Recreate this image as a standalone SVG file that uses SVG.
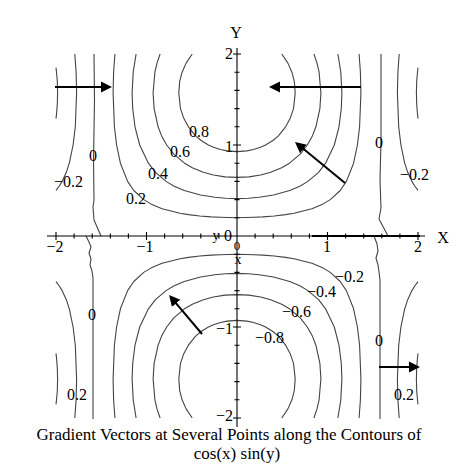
<svg xmlns="http://www.w3.org/2000/svg" xmlns:xlink="http://www.w3.org/1999/xlink" width="474" height="474" viewBox="0 0 474 474">
<style>
.c{fill:none;stroke:#444;stroke-width:1.1;stroke-linejoin:round}
.ax{fill:none;stroke:#000;stroke-width:1.1}
.v{fill:none;stroke:#000;stroke-width:2}
text{font-family:"Liberation Serif","Times New Roman",serif;fill:#000}
.lb{font-size:16px}
.tt{font-size:17px}
</style>
<defs>
<marker id="ah" markerUnits="userSpaceOnUse" markerWidth="12" markerHeight="12" refX="1" refY="6" orient="auto">
<path d="M0,0.5 L11,6 L0,11.5 Z" fill="#000"/>
</marker>
<g id="top">
<path class="c" d="M192.2,54 L186.1,63.1 L182.1,72.2 L179.7,81.3 L178.8,93.1 L180.5,108.6 L183.5,117.7 L188.4,126.8 L195.6,135.9 L201.1,140.5 L208.4,145 L213.5,147.3 L220.5,149.5 L227.2,150.9 L237,151.6 L246.8,150.9 L253.5,149.5 L260.5,147.3 L265.6,145 L272.9,140.5 L278.4,135.9 L285.6,126.8 L290.5,117.7 L293.5,108.6 L295.2,93.1 L294.3,81.3 L291.9,72.2 L287.9,63.1 L281.8,54"/>
<path class="c" d="M160.1,54 L157,63.1 L154.9,72.2 L153.1,93.1 L154.1,108.6 L158.1,126.8 L161.6,135.9 L166.7,145 L173.8,154.1 L184.5,163.2 L192.3,167.75 L203.4,172.3 L213.4,175 L225.1,176.85 L237,177.4 L248.9,176.85 L260.6,175 L270.6,172.3 L281.7,167.75 L289.5,163.2 L300.2,154.1 L307.3,145 L312.4,135.9 L315.9,126.8 L319.9,108.6 L320.9,93.1 L319.1,72.2 L317,63.1 L313.9,54"/>
<path class="c" d="M136.1,54 L133.2,72.2 L132.1,93.1 L132.7,108.6 L135,126.8 L139.7,145 L148.4,163.2 L155.4,172.3 L166.1,181.4 L173.7,186 L184.2,190.5 L200.5,195.05 L214.9,197.3 L225.6,198.2 L237,198.6 L248.4,198.2 L259.1,197.3 L273.5,195.05 L289.8,190.5 L300.3,186 L307.9,181.4 L318.6,172.3 L325.6,163.2 L334.3,145 L339,126.8 L341.3,108.6 L341.9,93.1 L340.8,72.2 L337.9,54"/>
<path class="c" d="M114.9,54 L113.6,72.2 L113.1,93.1 L114.4,126.8 L116.6,145 L120.4,163.2 L127.6,181.4 L133.8,190.5 L143.7,199.6 L151.3,204.15 L162.1,208.7 L180,213.25 L188.5,214.6 L199.8,216 L211.1,216.9 L220,217.3 L237,217.7 L254,217.3 L262.9,216.9 L274.2,216 L285.5,214.6 L294,213.25 L311.9,208.7 L322.7,204.15 L330.3,199.6 L340.2,190.5 L346.4,181.4 L353.6,163.2 L357.4,145 L359.6,126.8 L360.9,93.1 L360.4,72.2 L359.1,54"/>
<path class="c" d="M74.8,54 L76.1,72.2 L76.6,93.1 L75.3,126.8 L73.1,145 L69.3,163.2 L66.3,172.3 L62.1,181.4 L59.3,186 L56,190.4"/>
<path class="c" d="M399.2,54 L397.9,72.2 L397.4,93.1 L398.7,126.8 L400.9,145 L404.7,163.2 L407.7,172.3 L411.9,181.4 L414.7,186 L418,190.4"/>
<path class="c" d="M56,67.6 L56.5,72.2 L57.3,81.3 L57.6,93.1 L57.3,104.05 L56.6,113.15 L56,118.6"/>
<path class="c" d="M418,67.6 L417.5,72.2 L416.7,81.3 L416.4,93.1 L416.7,104.05 L417.4,113.15 L418,118.6"/>
</g>
</defs>
<g id="contours">
<use xlink:href="#top" href="#top"/>
<use xlink:href="#top" href="#top" transform="matrix(1 0 0 -1 0 472)"/>
<path class="c" d="M94,54 L94.5,100 L93.5,160 L94,200 L93,207 L94,220 L101,236"/>
<path class="c" d="M86,236 L89,242 L91,247 L89,253 L91,259 L90,265 L92,271 L93,278 L93,419"/>
<path class="c" d="M381,54 L381,140 L380,180 L381,208 L379,219 L388,236"/>
<path class="c" d="M374,236 L377,244 L378,251 L376,258 L378,265 L379,272 L380,280 L380,419"/>
</g>
<g id="axes">
<line class="ax" x1="47" y1="236" x2="425" y2="236"/>
<line class="ax" x1="237" y1="48" x2="237" y2="427"/>
<line x1="312" y1="236" x2="420" y2="236" stroke="#000" stroke-width="2"/>
<path class="ax" d="M56,232 V240 M74.1,233.5 V238.5 M92.2,233.5 V238.5 M110.3,233.5 V238.5 M128.4,233.5 V238.5 M146.5,232 V240 M164.6,233.5 V238.5 M182.7,233.5 V238.5 M200.8,233.5 V238.5 M218.9,233.5 V238.5 M255.1,233.5 V238.5 M273.2,233.5 V238.5 M291.3,233.5 V238.5 M309.4,233.5 V238.5 M327.5,232 V240 M345.6,233.5 V238.5 M363.7,233.5 V238.5 M381.8,233.5 V238.5 M399.9,233.5 V238.5 M418,232 V240"/>
<path class="ax" d="M233,54 H241 M234.5,72.2 H239.5 M234.5,90.4 H239.5 M234.5,108.6 H239.5 M234.5,126.8 H239.5 M233,145 H241 M234.5,163.2 H239.5 M234.5,181.4 H239.5 M234.5,199.6 H239.5 M234.5,217.8 H239.5 M234.5,254.2 H239.5 M234.5,272.4 H239.5 M234.5,290.6 H239.5 M234.5,308.8 H239.5 M233,327 H241 M234.5,345.2 H239.5 M234.5,363.4 H239.5 M234.5,381.6 H239.5 M234.5,399.8 H239.5 M233,418 H241"/>
<text class="lb" x="236" y="38" text-anchor="middle">Y</text>
<text class="lb" x="443" y="243" text-anchor="middle">X</text>
<text class="lb" x="233" y="59" text-anchor="end">2</text>
<text class="lb" x="233" y="152" text-anchor="end">1</text>
<text class="lb" x="233" y="334" text-anchor="end">−1</text>
<text class="lb" x="233" y="421" text-anchor="end">−2</text>
<text class="lb" x="55" y="252" text-anchor="middle">−2</text>
<text class="lb" x="145" y="252" text-anchor="middle">−1</text>
<text class="lb" x="327" y="252" text-anchor="middle">1</text>
<text class="lb" x="418" y="252" text-anchor="middle">2</text>
<text x="216" y="240" font-size="14" text-anchor="middle">y</text>
<text class="lb" x="228" y="241" text-anchor="middle">0</text>
<text x="237" y="250" font-size="13" text-anchor="middle">0</text>
<text x="238" y="264" font-size="14" text-anchor="middle">x</text>
</g>
<g id="contour-labels">
<text class="lb" x="199" y="137" text-anchor="middle">0.8</text>
<text class="lb" x="180" y="157" text-anchor="middle">0.6</text>
<text class="lb" x="158" y="179" text-anchor="middle">0.4</text>
<text class="lb" x="136" y="204" text-anchor="middle">0.2</text>
<text class="lb" x="93" y="161" text-anchor="middle">0</text>
<text class="lb" x="83" y="187" text-anchor="end">−0.2</text>
<text class="lb" x="379" y="148" text-anchor="middle">0</text>
<text class="lb" x="429" y="180" text-anchor="end">−0.2</text>
<text class="lb" x="92" y="320" text-anchor="middle">0</text>
<text class="lb" x="77" y="400" text-anchor="middle">0.2</text>
<text class="lb" x="364" y="282" text-anchor="end">−0.2</text>
<text class="lb" x="336" y="297" text-anchor="end">−0.4</text>
<text class="lb" x="311" y="317" text-anchor="end">−0.6</text>
<text class="lb" x="284" y="343" text-anchor="end">−0.8</text>
<text class="lb" x="379" y="346" text-anchor="middle">0</text>
<text class="lb" x="404" y="400" text-anchor="middle">0.2</text>
</g>
<g id="connectors">
<path class="v" d="M55,87 L102,87" marker-end="url(#ah)"/>
<path class="v" d="M361,87 L279,87" marker-end="url(#ah)"/>
<path class="v" d="M345,183 L302.7,148.3" marker-end="url(#ah)"/>
<path class="v" d="M202,334 L175.5,302.6" marker-end="url(#ah)"/>
<path class="v" d="M379,367 L410,367" marker-end="url(#ah)"/>
</g>
<g id="title">
<text class="tt" x="229" y="440" text-anchor="middle">Gradient Vectors at Several Points along the Contours of</text>
<text class="tt" x="237" y="459" text-anchor="middle">cos(x) sin(y)</text>
</g>
</svg>
